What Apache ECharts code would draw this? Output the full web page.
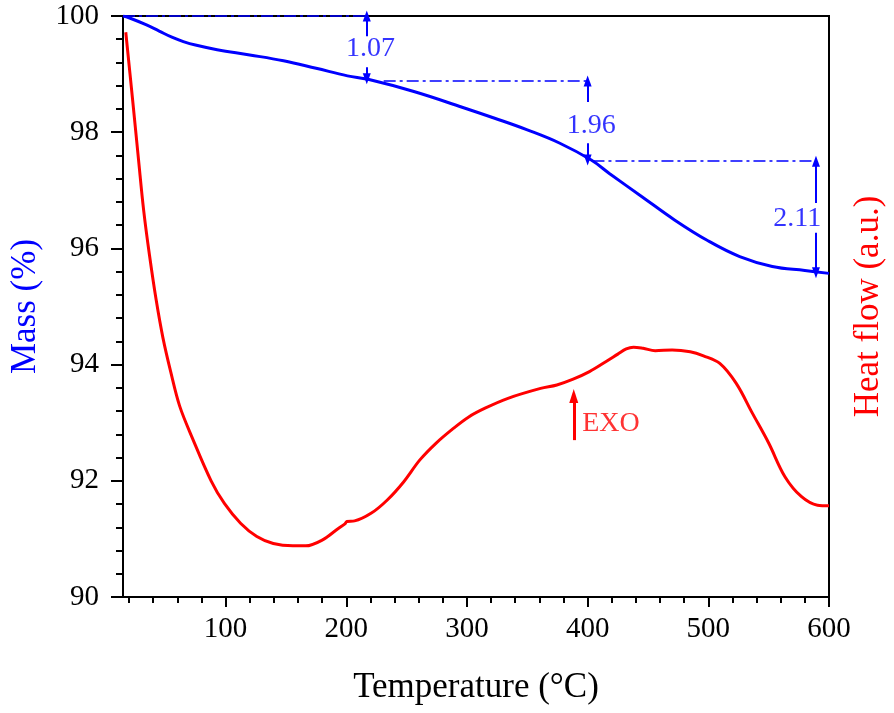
<!DOCTYPE html>
<html>
<head>
<meta charset="utf-8">
<script src="https://cdn.jsdelivr.net/npm/echarts@6/dist/echarts.min.js"></script>
<style>html,body{margin:0;padding:0;background:#fff;}#chart{width:894px;height:713px;}</style>
</head>
<body>
<div id="chart"></div>
<script>
// ---- data ----
const massTemp = [15, 20, 34, 45, 56, 65, 75, 93, 120, 148, 175, 201, 218, 256, 296, 323, 350, 377, 403, 418, 445, 472, 499, 526, 553, 580, 600];
const massValue = [100, 99.97, 99.85, 99.74, 99.63, 99.56, 99.50, 99.42, 99.33, 99.23, 99.10, 98.97, 98.91, 98.70, 98.43, 98.24, 98.04, 97.81, 97.52, 97.29, 96.89, 96.49, 96.14, 95.86, 95.69, 95.62, 95.57];

const heatTemp = [17.3, 23, 27.9, 32.1, 36.9, 42.5, 48.1, 54.6, 61.9, 72.4, 88, 99, 112.4, 125.9, 139.5, 155.7, 166.5, 180, 193.4, 198.9, 200.5, 206.9, 220.5, 234, 247.5, 261, 274.5, 288, 301.5, 315, 334, 361, 374.5, 388, 401.5, 415, 425, 432, 438, 446, 456, 470, 485, 496, 509.5, 523, 536.6, 550, 563.5, 577, 590.5, 600];
const heatValue = [99.72, 98.55, 97.52, 96.66, 95.89, 95.11, 94.46, 93.87, 93.29, 92.74, 92.00, 91.61, 91.27, 91.04, 90.92, 90.88, 90.88, 90.98, 91.18, 91.26, 91.30, 91.31, 91.44, 91.67, 91.98, 92.36, 92.65, 92.89, 93.10, 93.25, 93.42, 93.59, 93.65, 93.75, 93.88, 94.05, 94.18, 94.27, 94.30, 94.28, 94.24, 94.25, 94.22, 94.15, 94.02, 93.68, 93.16, 92.65, 92.07, 91.73, 91.58, 91.57];

const tempMajorTicks = [100, 200, 300, 400, 500, 600];
const tempMinorTicks = [20, 40, 60, 80, 120, 140, 160, 180, 220, 240, 260, 280, 320, 340, 360, 380, 420, 440, 460, 480, 520, 540, 560, 580];
const massTicks = [90, 92, 94, 96, 98, 100];

// mass-loss step guides: [T start, T end, mass level]
const guideStart = [15, 231, 404];
const guideEnd = [217, 400, 589];
const guideLevel = [100, 98.88, 97.51];
// arrows: [T, mass from, mass to]
const arrowTemp = [217, 217, 400, 400, 589.2, 589.2];
const arrowFrom = [99.65, 99.12, 98.52, 97.81, 96.78, 96.27];
const arrowTo = [100, 98.92, 98.88, 97.52, 97.50, 95.58];
// step labels
const stepLabel = ['1.07', '1.96', '2.11'];
const stepLabelTemp = [220, 403, 573.7];
const stepLabelMass = [99.43, 98.12, 96.52];
// EXO marker
const exoTemp = 388.5;
const exoFrom = 92.70;
const exoTo = 93.46;
const exoLabelTemp = 395.5;
const exoLabelMass = 92.99;

// ---- chart ----
const FONT = 'Liberation Serif';
const BLUE = '#0000ff';
const RED = '#ff0000';

const massData = massTemp.map((t, i) => [t, massValue[i]]);
const heatData = heatTemp.map((t, i) => [t, heatValue[i]]);

const guideLines = guideStart.map((s, i) => [{coord: [s, guideLevel[i]]}, {coord: [guideEnd[i], guideLevel[i]]}]);
const arrowLines = arrowTemp.map((t, i) => [{coord: [t, arrowFrom[i]]}, {coord: [t, arrowTo[i]]}]);
const labelData = stepLabel.map((s, i) => ({value: [stepLabelTemp[i], stepLabelMass[i]], name: s}));

const chart = echarts.init(document.getElementById('chart'), null, {renderer: 'canvas'});
chart.setOption({
  animation: false,
  backgroundColor: '#fff',
  textStyle: {fontFamily: FONT},
  grid: {left: 113, right: 59, top: 16, bottom: 116, show: true, borderColor: '#000', borderWidth: 2, containLabel: false},
  xAxis: [{
    type: 'value', min: 15, max: 600, position: 'bottom',
    name: 'Temperature (°C)', nameLocation: 'middle', nameGap: 73,
    nameTextStyle: {fontFamily: FONT, fontSize: 35, color: '#000'},
    axisLine: {show: true, lineStyle: {color: '#000', width: 2}},
    axisTick: {show: true, customValues: tempMajorTicks, length: 10, lineStyle: {color: '#000', width: 2}},
    axisLabel: {show: true, customValues: tempMajorTicks, margin: 18, fontFamily: FONT, fontSize: 29, color: '#000'},
    splitLine: {show: false}
  }, {
    type: 'value', min: 15, max: 600, position: 'bottom',
    axisLine: {show: false},
    axisTick: {show: true, customValues: tempMinorTicks, length: 6, lineStyle: {color: '#000', width: 2}},
    axisLabel: {show: false},
    splitLine: {show: false}
  }],
  yAxis: [{
    type: 'value', min: 90, max: 100, interval: 2, position: 'left',
    name: 'Mass (%)', nameLocation: 'middle', nameGap: 80, nameRotate: 90,
    nameTextStyle: {fontFamily: FONT, fontSize: 35, color: BLUE},
    axisLine: {show: true, lineStyle: {color: '#000', width: 2}},
    axisTick: {show: true, length: 12, lineStyle: {color: '#000', width: 2}},
    minorTick: {show: true, splitNumber: 5, length: 7, lineStyle: {color: '#000', width: 2}},
    axisLabel: {margin: 24, fontFamily: FONT, fontSize: 29, color: '#000', customValues: massTicks},
    splitLine: {show: false}
  }, {
    type: 'value', min: 90, max: 100, position: 'right',
    name: 'Heat flow (a.u.)', nameLocation: 'middle', nameGap: 22, nameRotate: 90,
    nameTextStyle: {fontFamily: FONT, fontSize: 35, color: RED, verticalAlign: 'top'},
    axisLine: {show: true, lineStyle: {color: '#000', width: 2}},
    axisTick: {show: false},
    axisLabel: {show: false},
    splitLine: {show: false}
  }],
  series: [{
    name: 'Mass', type: 'line', xAxisIndex: 0, yAxisIndex: 0,
    data: massData, smooth: 0.4, showSymbol: false,
    lineStyle: {color: BLUE, width: 3}, z: 3
  }, {
    name: 'Heat flow', type: 'line', xAxisIndex: 0, yAxisIndex: 1,
    data: heatData, smooth: 0.35, showSymbol: false,
    lineStyle: {color: RED, width: 3}, z: 3
  }, {
    name: 'guides', type: 'line', xAxisIndex: 0, yAxisIndex: 0, data: [],
    markLine: {
      silent: true, symbol: ['none', 'none'], label: {show: false},
      lineStyle: {color: BLUE, width: 1.5, type: [12, 4, 3, 4]},
      data: guideLines
    }
  }, {
    name: 'arrows', type: 'line', xAxisIndex: 0, yAxisIndex: 0, data: [],
    markLine: {
      silent: true, symbol: ['none', 'triangle'], symbolSize: [8, 11], label: {show: false},
      lineStyle: {color: BLUE, width: 2, type: 'solid'},
      data: arrowLines
    }
  }, {
    name: 'stepLabels', type: 'scatter', xAxisIndex: 0, yAxisIndex: 0,
    symbolSize: 0, data: labelData,
    label: {show: true, position: 'inside', formatter: p => p.name, fontFamily: FONT, fontSize: 28, color: BLUE}
  }, {
    name: 'exo', type: 'line', xAxisIndex: 0, yAxisIndex: 0, data: [],
    markLine: {
      silent: true, symbol: ['none', 'triangle'], symbolSize: [9, 14], label: {show: false},
      lineStyle: {color: RED, width: 3, type: 'solid'},
      data: [[{coord: [exoTemp, exoFrom]}, {coord: [exoTemp, exoTo]}]]
    }
  }, {
    name: 'exoLabel', type: 'scatter', xAxisIndex: 0, yAxisIndex: 0,
    symbolSize: 0, data: [{value: [exoLabelTemp, exoLabelMass], name: 'EXO'}],
    label: {show: true, position: 'inside', align: 'left', formatter: p => p.name, fontFamily: FONT, fontSize: 28, color: RED}
  }]
});
</script>
</body>
</html>
